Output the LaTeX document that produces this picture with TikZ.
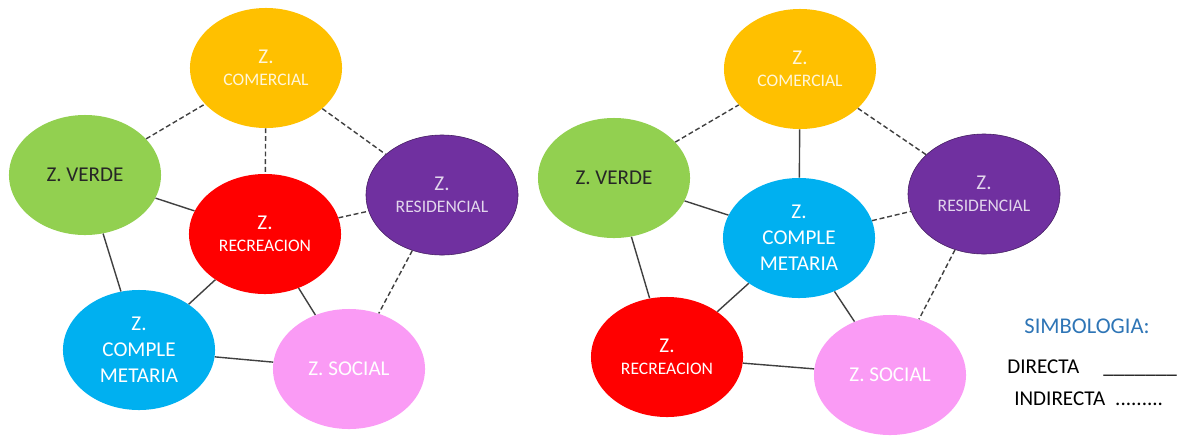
\documentclass[tikz,border=0pt]{standalone}
\usepackage{fontspec}
\setmainfont{Carlito}
\definecolor{zyellow}{RGB}{255, 192, 0}
\definecolor{zgreen}{RGB}{146, 208, 80}
\definecolor{zred}{RGB}{255, 0, 0}
\definecolor{zpurple}{RGB}{112, 48, 160}
\definecolor{zcyan}{RGB}{0, 176, 240}
\definecolor{zpink}{RGB}{250, 155, 245}
\definecolor{legblue}{RGB}{46, 117, 182}
\definecolor{linegray}{RGB}{64, 64, 64}
\usetikzlibrary{shapes.geometric}

\tikzset{
  zone/.style={ellipse, minimum width=3.8cm, minimum height=3.0cm, inner sep=0pt, align=center,
    font=\fontsize{15}{18.5}\selectfont},
  directa/.style={draw=linegray, line width=1pt},
  indirecta/.style={draw=linegray, line width=1pt, dash pattern=on 3.5pt off 2pt},
  legtext/.style={font=\fontsize{15}{17}\selectfont, anchor=base west, inner sep=0pt},
}
\newcommand{\zsmall}{\fontsize{12.5}{14}\selectfont}

\begin{document}
\begin{tikzpicture}[x=0.025cm, y=-0.025cm]
  \useasboundingbox (0,0) rectangle (1177,436);

  % Left diagram
  \node[zone, fill=zyellow, text=zyellow!15!white] (comA) at (266, 68) {Z.\\[-3pt]{\zsmall COMERCIAL}};
  \node[zone, fill=zgreen, text=black!85] (verA) at (85, 175) {Z. VERDE};
  \node[zone, fill=zred, text=white] (recA) at (265, 234) {Z.\\[-3pt]{\zsmall RECREACION}};
  \node[zone, fill=zpurple, draw=zpurple!60!black, text=zpurple!20!white] (resA) at (442, 195) {Z.\\[-3pt]{\zsmall RESIDENCIAL}};
  \node[zone, fill=zcyan, text=white] (comA2) at (139, 350) {Z.\\COMPLE\\METARIA};
  \node[zone, fill=zpink, text=white] (socA) at (349, 369) {Z. SOCIAL};

  \draw[indirecta] (verA) -- (comA);
  \draw[indirecta] (comA) -- (recA);
  \draw[indirecta] (comA) -- (resA);
  \draw[indirecta] (recA) -- (resA);
  \draw[indirecta] (resA) -- (socA);
  \draw[directa] (verA) -- (recA);
  \draw[directa] (verA) -- (comA2);
  \draw[directa] (comA2) -- (recA);
  \draw[directa] (recA) -- (socA);
  \draw[directa] (comA2) -- (socA);

  % Right diagram
  \node[zone, fill=zyellow, text=zyellow!15!white] (comB) at (800, 69) {Z.\\[-3pt]{\zsmall COMERCIAL}};
  \node[zone, fill=zgreen, text=black!85] (verB) at (614, 178) {Z. VERDE};
  \node[zone, fill=zcyan, text=white] (comB2) at (799, 238) {Z.\\COMPLE\\METARIA};
  \node[zone, fill=zpurple, draw=zpurple!60!black, text=zpurple!20!white] (resB) at (984, 194) {Z.\\[-3pt]{\zsmall RESIDENCIAL}};
  \node[zone, fill=zred, text=white] (recB) at (667, 357) {Z.\\[-3pt]{\zsmall RECREACION}};
  \node[zone, fill=zpink, text=white] (socB) at (890, 375) {Z. SOCIAL};

  \draw[indirecta] (verB) -- (comB);
  \draw[indirecta] (comB) -- (resB);
  \draw[indirecta] (comB2) -- (resB);
  \draw[indirecta] (resB) -- (socB);
  \draw[directa] (comB) -- (comB2);
  \draw[directa] (verB) -- (comB2);
  \draw[directa] (verB) -- (recB);
  \draw[directa] (comB2) -- (recB);
  \draw[directa] (comB2) -- (socB);
  \draw[directa] (recB) -- (socB);

  % Legend
  \node[font=\fontsize{16}{18}\selectfont, text=legblue] (simb) at (1087, 326) {SIMBOLOGIA:};
  \node[legtext] (dir) at (1007, 373) {DIRECTA\hspace{6mm}\_\_\_\_\_\_\_};
  \node[legtext] (ind) at (1014, 405) {INDIRECTA\hspace{2.5mm}.........};
\end{tikzpicture}
\end{document}
